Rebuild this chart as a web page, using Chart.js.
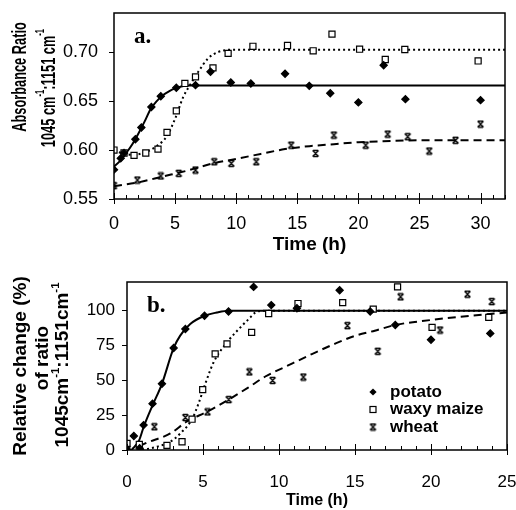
<!DOCTYPE html>
<html>
<head>
<meta charset="utf-8">
<script src="https://cdn.jsdelivr.net/npm/chart.js@4.4.1/dist/chart.umd.min.js"></script>
<style>
  html, body { margin: 0; padding: 0; background: #fff; }
  #wrap { position: relative; width: 516px; height: 510px; }
  canvas { position: absolute; left: 0; }
</style>
</head>
<body>
<div id="wrap">
  <canvas id="chart-a" width="516" height="255" style="top:0"></canvas>
  <canvas id="chart-b" width="516" height="255" style="top:255px"></canvas>
</div>
<script>
// ---- data ----
const seriesNames = ['potato', 'waxy maize', 'wheat'];

// panel a: absorbance ratio vs time
const xTicksA = [0, 5, 10, 15, 20, 25, 30];
const yTicksA = [0.55, 0.60, 0.65, 0.70];

const potatoA_t = [0, 0.55, 0.82, 1.75, 2.24, 3.06, 3.83, 5.1, 6.67, 7.9, 9.56, 11.2, 14.0, 15.98, 17.7, 20.0, 22.07, 23.85, 30.0];
const potatoA_v = [0.580, 0.5915, 0.597, 0.611, 0.623, 0.644, 0.655, 0.6636, 0.6663, 0.680, 0.669, 0.668, 0.678, 0.6656, 0.658, 0.6487, 0.6867, 0.652, 0.651];
const waxyA_t = [0, 0.82, 1.64, 2.6, 3.6, 4.34, 5.1, 5.8, 6.67, 8.1, 9.34, 11.37, 14.2, 16.3, 17.84, 20.1, 22.2, 23.8, 29.8];
const waxyA_v = [0.600, 0.597, 0.5946, 0.597, 0.601, 0.618, 0.640, 0.668, 0.6748, 0.684, 0.6987, 0.706, 0.7068, 0.7014, 0.7184, 0.703, 0.6925, 0.7027, 0.691];
const wheatA_t = [0, 1.91, 3.83, 5.3, 6.67, 8.2, 9.6, 11.64, 14.5, 16.5, 18.0, 20.6, 22.4, 24.04, 25.8, 27.95, 30.0];
const wheatA_v = [0.5636, 0.5694, 0.5735, 0.5762, 0.5796, 0.588, 0.5864, 0.588, 0.605, 0.5966, 0.6153, 0.605, 0.6163, 0.6136, 0.599, 0.610, 0.6265];

// fitted curves (panel a)
const potatoFitA_t = [0, 0.5, 1, 1.5, 2, 2.5, 3, 3.5, 4, 4.5, 5, 5.5, 6, 7, 32];
const potatoFitA_v = [0.583, 0.589, 0.597, 0.606, 0.617, 0.629, 0.642, 0.650, 0.656, 0.660, 0.663, 0.665, 0.666, 0.666, 0.666];
const waxyFitA_t = [0, 0.8, 1.5, 2.6, 3.6, 4.3, 5.0, 5.66, 6.2, 6.9, 7.7, 8.5, 9.6, 32];
const waxyFitA_v = [0.599, 0.5965, 0.595, 0.598, 0.605, 0.6136, 0.632, 0.654, 0.666, 0.680, 0.6936, 0.700, 0.7025, 0.7025];
const wheatFitA_t = [0, 2, 4, 6, 8, 10, 12, 14, 16, 18, 20, 22, 25, 28, 32];
const wheatFitA_v = [0.563, 0.567, 0.573, 0.579, 0.586, 0.591, 0.596, 0.601, 0.604, 0.606, 0.608, 0.609, 0.610, 0.610, 0.610];

// panel b: relative change (%) vs time
const xTicksB = [0, 5, 10, 15, 20, 25];
const yTicksB = [0, 25, 50, 75, 100];

const potatoB_t = [0.04, 0.45, 0.83, 1.09, 1.68, 2.3, 3.07, 3.84, 5.1, 6.68, 8.33, 9.49, 11.18, 13.99, 16.0, 17.65, 20.0, 23.9];
const potatoB_v = [0, 10, 1.2, 17.8, 33.1, 47.3, 72.9, 86.4, 95.9, 98.9, 116.5, 103.5, 101.3, 114.1, 98.9, 89.3, 78.8, 83.3];
const waxyB_t = [0, 0.81, 2.63, 3.62, 4.28, 4.98, 5.8, 6.58, 8.2, 9.32, 11.25, 14.19, 16.2, 17.8, 20.07, 23.8];
const waxyB_v = [4.7, 4, 3.3, 5.9, 22, 43.1, 68.7, 75.8, 84.0, 97.5, 104.6, 105.3, 100.6, 116.5, 87.6, 94.7];
const wheatB_t = [0.04, 1.8, 3.84, 5.3, 6.69, 8.05, 9.58, 11.6, 14.5, 16.5, 18.0, 20.6, 22.4, 24.0];
const wheatB_v = [0.5, 16.6, 23.2, 27.2, 36, 55.8, 49.7, 52.1, 88.8, 70.5, 109.4, 85.7, 111.3, 106];

// fitted curves (panel b)
const potatoFitB_t = [0.3, 0.8, 1.1, 1.7, 2.3, 3.07, 3.5, 4.16, 5.1, 5.9, 6.7, 25];
const potatoFitB_v = [0, 7, 16.6, 32.4, 47.3, 72.9, 81.7, 90, 95.9, 98.2, 99.5, 99.5];
const waxyFitB_t = [1.0, 2.0, 2.85, 3.5, 4.28, 4.7, 5.15, 5.7, 6.58, 7.57, 8.07, 8.44, 9.0, 25];
const waxyFitB_v = [0, 2.4, 5.9, 11.8, 22, 33, 47.3, 62.7, 76.9, 88.8, 94.2, 98.2, 99.5, 99.5];
const wheatFitB_t = [0.8, 1.2, 2.85, 3.95, 5.3, 6.69, 8.1, 9.1, 10.6, 12.2, 13.7, 15.0, 16.3, 17.65, 19.95, 22.6, 25];
const wheatFitB_v = [2.5, 4.7, 11.8, 20.5, 27.5, 36, 45.5, 52.5, 60.4, 68.7, 76, 81.5, 85.2, 89.3, 92.8, 95.9, 98.2];

// ---- styling helpers ----
const FONT = '"Liberation Sans", Arial, sans-serif';
const SERIF = '"Liberation Serif", "Times New Roman", serif';

function pts(t, v) {
    return t.map((x, i) => ({ x: x, y: v[i] }));
}

// the "x with bars" marker used for wheat
function wheatMarker() {
    const c = document.createElement('canvas');
    c.width = 9; c.height = 9;
    const g = c.getContext('2d');
    g.strokeStyle = '#000';
    g.lineWidth = 1.3;
    g.beginPath();
    g.moveTo(1.5, 1.5); g.lineTo(7.5, 7.5);
    g.moveTo(7.5, 1.5); g.lineTo(1.5, 7.5);
    g.moveTo(2, 1.5); g.lineTo(7, 1.5);
    g.moveTo(2, 7.5); g.lineTo(7, 7.5);
    g.stroke();
    return c;
}
const wheatImg = wheatMarker();

function markerSet(label, data, style) {
    const base = { label: label, data: data, showLine: false, borderColor: '#000', borderWidth: 1.2 };
    if (style === 'potato') return Object.assign(base, { pointStyle: 'rectRot', pointRadius: 3.6, backgroundColor: '#000' });
    if (style === 'waxy') return Object.assign(base, { pointStyle: 'rect', pointRadius: 4.3, backgroundColor: '#fff' });
    return Object.assign(base, { pointStyle: wheatImg, pointRadius: 4.5, backgroundColor: '#000' });
}

function curveSet(data, dash) {
    return {
        data: data, showLine: true, pointRadius: 0, borderColor: '#000', borderWidth: 2,
        borderDash: dash, cubicInterpolationMode: 'monotone', fill: false
    };
}

// draws rotated text with superscript parts
function drawRotated(ctx, parts, cx, cy, size, squeeze) {
    ctx.save();
    ctx.translate(cx, cy);
    ctx.rotate(-Math.PI / 2);
    ctx.scale(squeeze, 1);
    ctx.fillStyle = '#000';
    ctx.textBaseline = 'middle';
    ctx.textAlign = 'left';
    let total = 0;
    parts.forEach(p => {
        ctx.font = 'bold ' + (p.sup ? size * 0.6 : size) + 'px ' + FONT;
        p.w = ctx.measureText(p.t).width;
        total += p.w;
    });
    let x = -total / 2;
    parts.forEach(p => {
        ctx.font = 'bold ' + (p.sup ? size * 0.6 : size) + 'px ' + FONT;
        ctx.fillText(p.t, x, p.sup ? -size * 0.4 : 0);
        x += p.w;
    });
    ctx.restore();
}

// frame, inward ticks, titles, panel letter and legend
function decorPlugin(p) {
    return {
        id: 'decor',
        afterDraw(chart) {
            const ctx = chart.ctx;
            const a = chart.chartArea;
            const xs = chart.scales.x, ys = chart.scales.y;
            ctx.save();
            ctx.strokeStyle = '#000';
            ctx.lineWidth = 1.5;
            ctx.strokeRect(a.left, a.top, a.right - a.left, a.bottom - a.top);

            ctx.lineWidth = 1;
            for (let t = 0; t <= xs.max; t += 1) {
                const px = Math.round(xs.getPixelForValue(t)) + 0.5;
                const major = t % 5 === 0;
                ctx.beginPath();
                ctx.moveTo(px, a.bottom + (major ? 5 : 0));
                ctx.lineTo(px, a.bottom - (major ? 6 : 4));
                ctx.stroke();
            }
            p.yTicks.forEach(v => {
                const py = Math.round(ys.getPixelForValue(v)) + 0.5;
                ctx.beginPath();
                ctx.moveTo(a.left - 5, py);
                ctx.lineTo(a.left, py);
                ctx.stroke();
            });

            // x title
            ctx.fillStyle = '#000';
            ctx.font = 'bold ' + p.xTitleSize + 'px ' + FONT;
            ctx.textAlign = 'center';
            ctx.textBaseline = 'middle';
            ctx.fillText('Time (h)', (a.left + a.right) / 2, p.xTitleY);

            // y titles
            p.yTitles.forEach(tt => drawRotated(ctx, tt.parts, tt.x, tt.y, p.yTitleSize, p.squeeze));

            // panel letter
            ctx.font = 'bold ' + p.letterSize + 'px ' + SERIF;
            ctx.textAlign = 'left';
            ctx.fillText(p.letter, p.letterX, p.letterY);

            // legend
            if (p.legend) {
                const L = p.legend;
                seriesNames.forEach((name, i) => {
                    const y = L.y + i * L.step;
                    ctx.fillStyle = '#000';
                    if (i === 0) {
                        ctx.beginPath();
                        ctx.moveTo(L.x, y - 3.6); ctx.lineTo(L.x + 3.6, y);
                        ctx.lineTo(L.x, y + 3.6); ctx.lineTo(L.x - 3.6, y);
                        ctx.closePath(); ctx.fill();
                    } else if (i === 1) {
                        ctx.lineWidth = 1.2;
                        ctx.strokeRect(L.x - 3, y - 3, 6, 6);
                    } else {
                        ctx.drawImage(wheatImg, L.x - 4.5, y - 4.5);
                    }
                    ctx.font = 'bold ' + L.size + 'px ' + FONT;
                    ctx.textAlign = 'left';
                    ctx.textBaseline = 'middle';
                    ctx.fillText(name, L.x + 17, y);
                });
            }
            ctx.restore();
        }
    };
}

function buildPanel(canvasId, p) {
    return new Chart(document.getElementById(canvasId), {
        type: 'scatter',
        data: { datasets: p.datasets },
        options: {
            responsive: false,
            animation: false,
            layout: { padding: p.padding },
            plugins: { legend: { display: false }, tooltip: { enabled: false } },
            scales: {
                x: {
                    type: 'linear', min: 0, max: p.xMax,
                    grid: { display: false, drawTicks: false },
                    border: { display: false },
                    afterBuildTicks: s => { s.ticks = p.xTicks.map(v => ({ value: v })); },
                    afterFit: s => {
                        s.height = p.xHeight;
                        s.paddingLeft = 0; s.paddingRight = 0;
                    },
                    ticks: {
                        color: '#000', padding: p.xPad, maxRotation: 0, autoSkip: false,
                        font: { family: FONT, size: p.tickSize }
                    }
                },
                y: {
                    type: 'linear', min: p.yMin, max: p.yMax,
                    grid: { display: false, drawTicks: false },
                    border: { display: false },
                    afterBuildTicks: s => { s.ticks = p.yTicks.map(v => ({ value: v })); },
                    afterFit: s => {
                        s.width = p.yWidth;
                        s.paddingTop = 0; s.paddingBottom = 0;
                    },
                    ticks: {
                        color: '#000', padding: p.yPad,
                        font: { family: FONT, size: p.tickSize },
                        callback: p.yFormat
                    }
                }
            }
        },
        plugins: [decorPlugin(p)]
    });
}

// Panel a
buildPanel('chart-a', {
    datasets: [
        markerSet('potato', pts(potatoA_t, potatoA_v), 'potato'),
        markerSet('waxy maize', pts(waxyA_t, waxyA_v), 'waxy'),
        markerSet('wheat', pts(wheatA_t, wheatA_v), 'wheat'),
        curveSet(pts(potatoFitA_t, potatoFitA_v), []),
        curveSet(pts(waxyFitA_t, waxyFitA_v), [2, 3]),
        curveSet(pts(wheatFitA_t, wheatFitA_v), [8, 5])
    ],
    padding: { top: 13, right: 11, left: 0, bottom: 0 },
    xMax: 32, xTicks: xTicksA, xHeight: 56, xPad: 14,
    yMin: 0.55, yMax: 0.74, yTicks: yTicksA, yWidth: 114, yPad: 16,
    yFormat: v => v.toFixed(2),
    tickSize: 18,
    xTitleSize: 19, xTitleY: 245,
    yTitleSize: 20, squeeze: 0.64,
    yTitles: [
        { x: 20, y: 77, parts: [{ t: 'Absorbance Ratio' }] },
        { x: 49, y: 88, parts: [{ t: '1045 cm' }, { t: '-1', sup: true }, { t: ':1151 cm' }, { t: '-1', sup: true }] }
    ],
    letter: 'a.', letterSize: 23, letterX: 134, letterY: 37
});

// Panel b
buildPanel('chart-b', {
    datasets: [
        markerSet('potato', pts(potatoB_t, potatoB_v), 'potato'),
        markerSet('waxy maize', pts(waxyB_t, waxyB_v), 'waxy'),
        markerSet('wheat', pts(wheatB_t, wheatB_v), 'wheat'),
        curveSet(pts(potatoFitB_t, potatoFitB_v), []),
        curveSet(pts(waxyFitB_t, waxyFitB_v), [2, 3]),
        curveSet(pts(wheatFitB_t, wheatFitB_v), [8, 5])
    ],
    padding: { top: 27, right: 9, left: 0, bottom: 0 },
    xMax: 25, xTicks: xTicksB, xHeight: 60, xPad: 22,
    yMin: 0, yMax: 120, yTicks: yTicksB, yWidth: 127, yPad: 12,
    yFormat: v => String(v),
    tickSize: 17,
    xTitleSize: 16, xTitleY: 246,
    yTitleSize: 19, squeeze: 1,
    yTitles: [
        { x: 21, y: 111, parts: [{ t: 'Relative change (%)' }] },
        { x: 43, y: 103, parts: [{ t: 'of ratio' }] },
        { x: 63, y: 110, parts: [{ t: '1045cm' }, { t: '-1', sup: true }, { t: ':1151cm' }, { t: '-1', sup: true }] }
    ],
    letter: 'b.', letterSize: 23, letterX: 147, letterY: 51,
    legend: { x: 373, y: 137, step: 17.5, size: 17 }
});
</script>
</body>
</html>
